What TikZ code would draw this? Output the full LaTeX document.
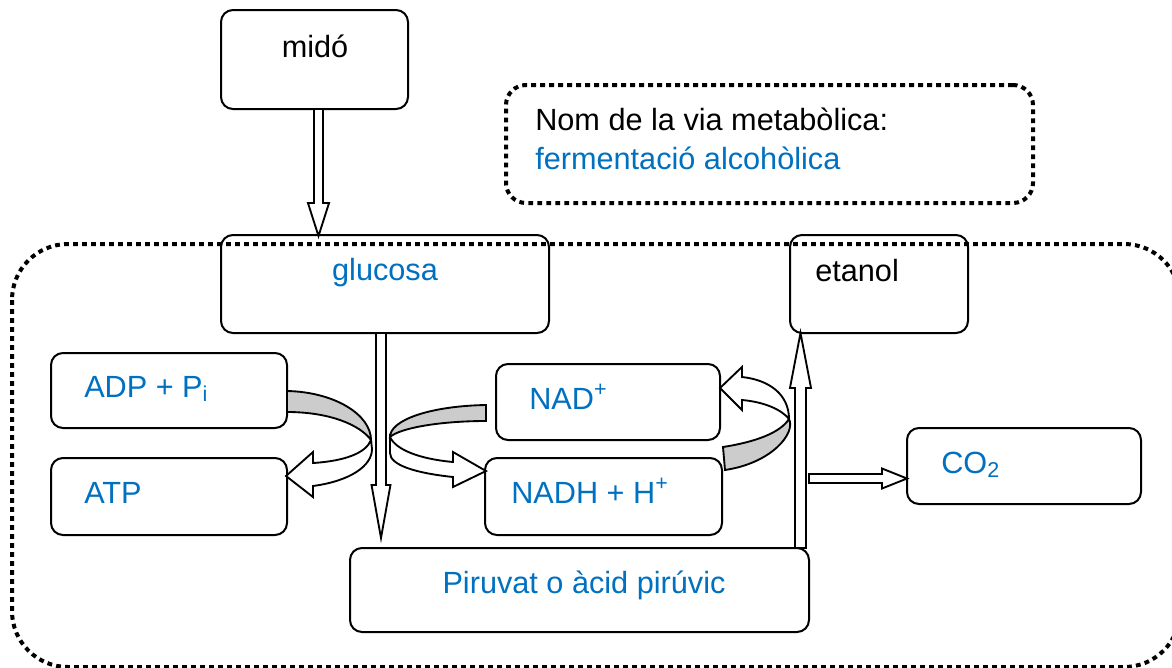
\documentclass[tikz,border=0pt]{standalone}
\usepackage{fontspec}
\setmainfont{Liberation Sans}
\usetikzlibrary{fit,calc}
\definecolor{txtblue}{RGB}{0,112,192}
\definecolor{ribbon}{RGB}{204,204,204}

% straight hollow block arrow: start, tip, shaft half-width, head half-width, head length
\newcommand\blockarrow[5]{%
  \coordinate (hb) at ($(#2)!#5!(#1)$);
  \draw[blk] ($(#1)!#3!90:(#2)$) -- ($(hb)!#3!90:(#2)$) -- ($(hb)!#4!90:(#2)$)
    -- (#2) -- ($(hb)!#4!-90:(#2)$) -- ($(hb)!#3!-90:(#2)$) -- ($(#1)!#3!-90:(#2)$) -- cycle;}

\tikzset{
  box/.style={draw, line width=1.5pt, rounded corners=9pt, inner sep=0pt, outer sep=0pt},
  frame/.style={draw, line width=3pt, dash pattern=on 3.6pt off 3.15pt, rounded corners=#1},
  blk/.style={draw, fill=white, line width=1.4pt, line join=miter},
  band/.style={draw, fill=ribbon, line width=1.4pt},
  front/.style={draw, fill=white, line width=1.4pt, line join=miter},
  lbl/.style={inner sep=0pt, font=\fontsize{23}{27.6}\selectfont, text=txtblue},
  lblk/.style={lbl, text=black},
}

\begin{document}
\begin{tikzpicture}[x=0.75pt,y=-0.75pt]
\useasboundingbox (0,0) rectangle (1172,668);
\fill[white] (0,0) rectangle (1172,668);

% dotted frames
\draw[frame=42pt] (12,244) rectangle (1180,667);
\node[frame=15pt, inner sep=0pt, fit={(506,85) (1033,203)}] (name) {};
\node[lblk, anchor=base west] (namet) at (535,130) {Nom de la via metabòlica:};
\node[lbl, anchor=base west] (namev) at (535,169) {fermentació alcohòlica};

% boxes
\node[box, fit={(221,10) (408,109)}] (mido) {};
\node[box, fit={(221,235) (549,333)}] (glc) {};
\node[box, fit={(790,235) (968,333)}] (eta) {};
\node[box, fit={(51,353) (287,428)}] (adp) {};
\node[box, fit={(51,458) (287,535)}] (atp) {};
\node[box, fit={(496,364) (720,440)}] (nad) {};
\node[box, fit={(485,458) (722,535)}] (nadh) {};
\node[box, fit={(907,428) (1141,504)}] (co2) {};
\node[box, fit={(350,548) (809,632)}] (pir) {};

% labels
\node[lblk, anchor=base] at (315,57) {midó};
\node[lbl, anchor=base] at (385,280) {glucosa};
\node[lblk, anchor=base west] at (815,281) {etanol};
\node[lbl, anchor=base west] at (84,397) {ADP + P\textsubscript{i}};
\node[lbl, anchor=base west] at (84,503) {ATP};
\node[lbl, anchor=base west] at (529,409) {NAD\textsuperscript{+}};
\node[lbl, anchor=base west] at (511,503) {NADH + H\textsuperscript{+}};
\node[lbl, anchor=base west] at (941,473) {CO\textsubscript{2}};
\node[lbl, anchor=base] at (584,593) {Piruvat o àcid pirúvic};

% straight block arrows
\coordinate (a1s) at ([xshift=3pt]mido.south);
\coordinate (a1t) at ([yshift=-0.75pt]a1s |- glc.north);
\blockarrow{a1s}{a1t}{3.4pt}{7.9pt}{24.75pt}

\coordinate (a2x) at (381,0);
\coordinate (a2s) at (a2x |- glc.south);
\coordinate (a2t) at ([yshift=7.5pt]a2x |- pir.north);
\blockarrow{a2s}{a2t}{3.75pt}{7.1pt}{39.75pt}

\coordinate (a3x) at (800.5,0);
\coordinate (a3s) at (a3x |- pir.north);
\coordinate (a3t) at (a3x |- eta.south);
\blockarrow{a3s}{a3t}{4.1pt}{7.9pt}{41.25pt}

\coordinate (a4s) at (809,478.5);
\coordinate (a4t) at (co2.west |- a4s);
\blockarrow{a4s}{a4t}{3.4pt}{7.5pt}{18.75pt}

% ADP + Pi -> ATP
\draw[band] (287,391) .. controls (335,392) and (371,415) .. (371,440)
  .. controls (360,425) and (330,412) .. (287,412) -- cycle;
\draw[front] (371,440) .. controls (366,453) and (345,461) .. (313,463)
  -- (313,452) -- (286,476) -- (313,497) -- (313,486)
  .. controls (350,481) and (372,466) .. (372,449) -- cycle;

% NAD+ -> NADH + H+
\draw[band] (486,405) .. controls (430,406) and (390,420) .. (390,437)
  .. controls (400,428) and (440,421) .. (486,421) -- cycle;
\draw[front] (390,437) .. controls (396,450) and (420,459) .. (453,462)
  -- (453,452) -- (486,471) -- (453,487) -- (453,477)
  .. controls (415,473) and (390,465) .. (390,453) -- cycle;

% NADH + H+ -> NAD+
\draw[band] (723,447) .. controls (755,442) and (780,433) .. (789,419)
  .. controls (796,433) and (772,463) .. (725,470) -- cycle;
\draw[front] (789,419) .. controls (789,395) and (770,380) .. (742,377)
  -- (742,367) -- (720,388) -- (742,410) -- (742,400)
  .. controls (765,402) and (782,410) .. (789,419) -- cycle;
\end{tikzpicture}
\end{document}
